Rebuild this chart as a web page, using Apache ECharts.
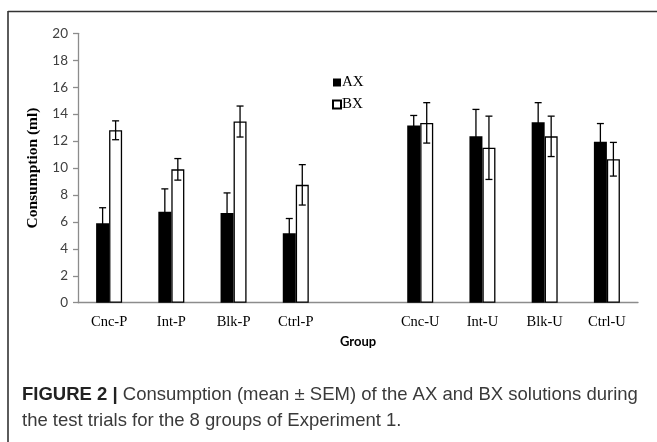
<!DOCTYPE html>
<html>
<head>
<meta charset="utf-8">
<script src="https://cdn.jsdelivr.net/npm/echarts@6/dist/echarts.min.js"></script>
<style>
html,body{margin:0;padding:0;background:#fff;}
#c{width:657px;height:442px;}
</style>
</head>
<body>
<div id="c"></div>
<script>
const categories = ['Cnc-P', 'Int-P', 'Blk-P', 'Ctrl-P', '', 'Cnc-U', 'Int-U', 'Blk-U', 'Ctrl-U'];
const axMean = [5.9, 6.75, 6.65, 5.15, null, 13.15, 12.35, 13.4, 11.95];
const axSem  = [1.15, 1.7, 1.5, 1.1, null, 0.75, 2.0, 1.45, 1.35];
const bxMean = [12.8, 9.9, 13.45, 8.75, null, 13.35, 11.5, 12.35, 10.65];
const bxSem  = [0.7, 0.8, 1.15, 1.5, null, 1.5, 2.35, 1.5, 1.25];
const yTicks = { min: 0, max: 20, interval: 2 };

const BAR_W = 13;

function errData(mean, sem) {
  const out = [];
  mean.forEach((m, i) => { if (m != null) out.push([i, m, sem[i]]); });
  return out;
}
function errRender(offset) {
  return function (params, api) {
    const i = api.value(0), m = api.value(1), s = api.value(2);
    const hi = api.coord([i, m + s]);
    const lo = api.coord([i, m - s]);
    const x = hi[0] + offset;
    const cap = 3.5;
    const st = { stroke: '#000', lineWidth: 1.3 };
    return {
      type: 'group',
      children: [
        { type: 'line', shape: { x1: x, y1: hi[1], x2: x, y2: lo[1] }, style: st },
        { type: 'line', shape: { x1: x - cap, y1: hi[1], x2: x + cap, y2: hi[1] }, style: st },
        { type: 'line', shape: { x1: x - cap, y1: lo[1], x2: x + cap, y2: lo[1] }, style: st }
      ]
    };
  };
}

const chart = echarts.init(document.getElementById('c'), null, { renderer: 'canvas' });
chart.setOption({
  backgroundColor: '#fff',
  animation: false,
  grid: { left: 78, right: 19, top: 33.3, bottom: 139.3, containLabel: false },
  legend: {
    orient: 'vertical',
    left: 327,
    top: 70,
    icon: 'rect',
    itemWidth: 8,
    itemHeight: 8,
    itemGap: 7,
    data: ['AX', 'BX'],
    textStyle: { fontFamily: 'Liberation Serif', fontSize: 15, color: '#000', padding: [0, 0, 0, -4] }
  },
  xAxis: {
    type: 'category',
    data: categories,
    axisTick: { show: false },
    axisLine: { lineStyle: { color: '#8c8c8c', width: 1.3 } },
    axisLabel: { fontFamily: 'Liberation Serif', fontSize: 14.5, color: '#000', margin: 12, interval: 0 },
    name: 'Group',
    nameLocation: 'middle',
    nameGap: 33,
    nameTextStyle: { fontFamily: 'Lato', fontWeight: 'bold', fontSize: 13, color: '#000' }
  },
  yAxis: {
    type: 'value',
    min: yTicks.min,
    max: yTicks.max,
    interval: yTicks.interval,
    splitLine: { show: false },
    axisLine: { show: true, lineStyle: { color: '#8c8c8c', width: 1.3 } },
    axisTick: { show: true, length: 5, lineStyle: { color: '#8c8c8c', width: 1.3 } },
    axisLabel: { fontFamily: 'Lato', fontSize: 13.5, color: '#404040', margin: 10 },
    name: 'Consumption (ml)',
    nameLocation: 'middle',
    nameGap: 34,
    nameTextStyle: { fontFamily: 'Liberation Serif', fontWeight: 'bold', fontSize: 15.5, color: '#000' }
  },
  series: [
    {
      name: 'AX', type: 'bar', data: axMean, barWidth: BAR_W, barGap: '0%',
      itemStyle: { color: '#000' }
    },
    {
      name: 'BX', type: 'bar', data: bxMean, barWidth: BAR_W, barGap: '0%',
      itemStyle: { color: '#fff', borderColor: '#000', borderWidth: 1.3 }
    },
    {
      type: 'custom', name: 'AX-err', data: errData(axMean, axSem),
      renderItem: errRender(-BAR_W / 2), z: 5, silent: true
    },
    {
      type: 'custom', name: 'BX-err', data: errData(bxMean, bxSem),
      renderItem: errRender(BAR_W / 2), z: 5, silent: true
    }
  ],
  graphic: [
    { type: 'line', shape: { x1: 8, y1: 11.5, x2: 657, y2: 11.5 }, style: { stroke: '#333', lineWidth: 1.6 } },
    { type: 'line', shape: { x1: 8, y1: 11, x2: 8, y2: 442 }, style: { stroke: '#333', lineWidth: 1.6 } },
    {
      type: 'text', left: 22, top: 382,
      style: {
        text: '{b|FIGURE 2 |} Consumption (mean ± SEM) of the AX and BX solutions during\nthe test trials for the 8 groups of Experiment 1.',
        fontFamily: 'Liberation Sans', fontSize: 18.5, lineHeight: 26, fill: '#3a3a3a',
        rich: { b: { fontFamily: 'Liberation Sans', fontWeight: 'bold', fontSize: 18.5, fill: '#222' } }
      }
    }
  ]
});
</script>
</body>
</html>
